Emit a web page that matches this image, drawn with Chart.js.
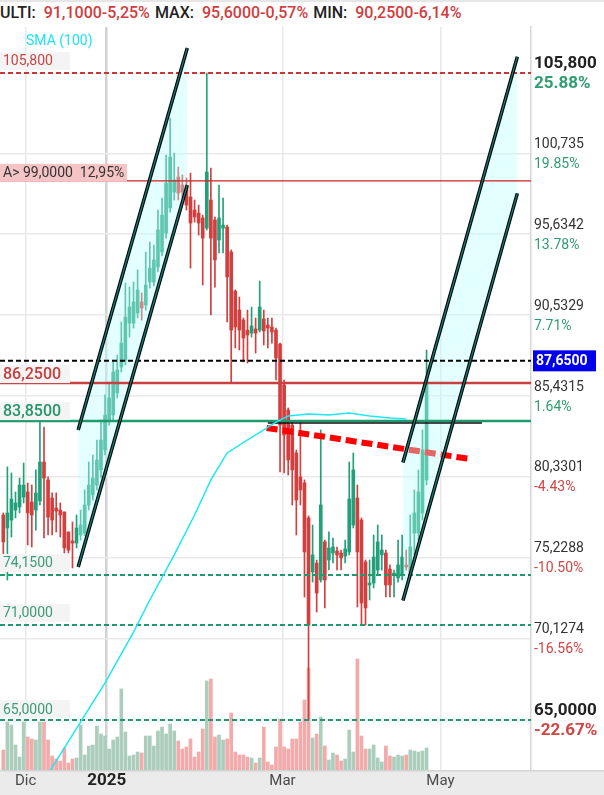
<!DOCTYPE html>
<html lang="it">
<head>
  <meta charset="UTF-8">
  <title>Grafico giornaliero</title>
  <script src="https://cdn.jsdelivr.net/npm/chart.js"></script>
  <style>
    body {
      margin: 0;
      background: #fff;
      font-family: Roboto, Arial, sans-serif;
    }
    #wrap {
      position: relative;
      width: 604px;
      height: 795px;
      overflow: hidden;
    }
    canvas {
      position: absolute;
      left: 0;
      top: 0;
    }
    #head {
      position: absolute;
      left: 0;
      top: 0;
      width: 604px;
      height: 24px;
      border-top: 2px solid #e6e6e6;
      background: #fff;
      font-size: 16px;
      font-weight: 500;
      line-height: 22px;
      white-space: nowrap;
    }
    .k { color: #222; margin-right: 8px; }
    .v { color: #d23c3c; margin-right: 5px; }
  </style>
</head>
<body>
  <div id="wrap">
    <canvas id="chart" width="604" height="795"></canvas>
    <div id="head"></div>
  </div>

  <script>
    // header quote
    const headKeys = ['ULTI:', 'MAX:', 'MIN:'];
    const headVals = ['91,1000-5,25%', '95,6000-0,57%', '90,2500-6,14%'];

    // daily candles (index 0 = first session shown)
    const opens = [
      77.93, 77.11, 77.61, 78.24, 78.43, 79.06, 79.38, 78.75, 78.24, 78.81,
      81.27, 80.14, 79.00, 78.37, 78.24, 78.12, 76.86, 76.29, 76.16, 76.67,
      76.79, 78.56, 79.19, 79.82, 80.77, 82.03, 83.92, 84.23, 85.62, 87.26,
      87.70, 90.03, 90.03, 90.67, 91.36, 91.17, 92.62, 92.62, 93.57, 94.51,
      95.71, 97.29, 98.29, 99.24, 98.74, 98.61, 97.98, 97.16, 96.97, 96.66,
      96.02, 97.79, 96.53, 95.27, 96.02, 96.09, 94.51, 92.05, 90.85, 90.22,
      89.59, 89.40, 89.66, 89.59, 90.29, 89.91, 89.78, 89.59, 88.71, 86.13,
      84.55, 83.60, 81.84, 80.33, 79.95, 77.74, 74.34, 74.90, 73.83, 76.23,
      75.09, 75.53, 75.66, 75.53, 75.34, 75.60, 77.30, 79.00, 77.61, 74.97,
      73.52, 73.64, 74.46, 75.41, 75.53, 74.52, 74.15, 73.96, 74.15, 74.78,
      74.27, 76.79, 76.79, 78.06, 80.14
    ];
    const highs = [
      78.06, 80.96, 80.58, 79.38, 80.26, 81.21, 79.95, 79.82, 80.77, 83.85,
      83.48, 80.33, 79.32, 79.32, 78.69, 78.12, 76.86, 77.49, 77.93, 78.24,
      79.51, 81.27, 81.71, 82.66, 83.92, 85.50, 86.31, 87.70, 88.02, 90.10,
      92.56, 92.30, 92.62, 93.38, 91.93, 94.51, 95.14, 94.95, 97.16, 97.92,
      100.63, 102.96, 100.75, 99.87, 99.37, 99.18, 99.49, 97.79, 97.47, 96.84,
      105.80, 99.81, 96.72, 98.74, 97.92, 96.21, 94.64, 92.12, 91.67, 90.35,
      90.85, 91.04, 90.35, 92.68, 90.85, 90.35, 90.35, 89.72, 88.77, 86.44,
      84.68, 83.79, 82.03, 83.73, 80.14, 77.87, 77.30, 75.09, 83.29, 76.35,
      76.86, 76.48, 75.91, 75.72, 76.35, 81.27, 81.84, 79.82, 77.74, 75.09,
      75.09, 76.67, 77.30, 76.67, 75.72, 74.78, 74.46, 76.35, 76.67, 75.72,
      77.93, 79.51, 80.77, 83.29, 88.33
    ];
    const lows = [
      75.41, 73.83, 76.54, 77.74, 78.06, 78.69, 76.04, 75.91, 76.98, 78.56,
      76.48, 76.67, 76.67, 76.86, 76.54, 75.53, 75.53, 74.59, 75.85, 76.35,
      76.61, 78.24, 78.87, 79.51, 80.26, 81.71, 83.60, 83.92, 85.31, 86.95,
      87.39, 89.15, 89.72, 90.35, 90.22, 90.85, 92.24, 92.37, 93.25, 94.26,
      95.39, 97.03, 97.79, 97.79, 97.92, 97.16, 93.50, 96.40, 95.58, 92.43,
      95.90, 90.54, 92.30, 94.45, 94.45, 90.10, 86.25, 88.46, 88.33, 87.58,
      87.51, 89.15, 88.14, 89.47, 88.65, 88.46, 88.77, 86.44, 80.64, 80.58,
      80.45, 78.56, 76.67, 78.56, 72.76, 65.00, 73.70, 71.81, 73.70, 72.07,
      74.46, 74.90, 74.46, 74.46, 74.90, 75.41, 77.11, 72.13, 70.99, 70.99,
      72.57, 73.33, 74.15, 74.46, 72.76, 72.76, 72.76, 73.70, 73.83, 74.46,
      73.96, 75.41, 76.35, 77.61, 79.82
    ];
    const closes = [
      76.23, 78.06, 78.94, 78.69, 79.82, 79.82, 78.06, 77.93, 79.32, 81.27,
      80.26, 77.80, 77.61, 78.18, 77.93, 75.85, 75.72, 76.16, 77.11, 77.30,
      78.56, 79.82, 80.26, 81.40, 82.66, 84.23, 85.31, 86.95, 87.07, 88.77,
      90.41, 91.04, 91.36, 92.12, 90.98, 92.43, 93.50, 94.01, 95.90, 96.84,
      98.86, 100.50, 99.05, 98.23, 98.29, 97.47, 96.34, 96.72, 96.34, 95.39,
      99.56, 95.39, 94.01, 96.66, 96.21, 92.94, 89.59, 89.78, 89.59, 89.09,
      89.28, 89.85, 89.40, 91.04, 89.53, 89.72, 89.47, 87.83, 83.60, 82.97,
      81.40, 80.77, 78.87, 79.51, 75.60, 70.99, 75.41, 73.01, 78.56, 73.83,
      75.85, 75.91, 75.41, 75.22, 75.79, 78.94, 80.77, 75.60, 72.38, 72.07,
      73.64, 75.28, 76.23, 75.72, 73.52, 73.52, 74.27, 74.78, 75.28, 74.65,
      75.91, 78.06, 79.38, 82.03, 86.44
    ];
    const volumes = [
      20, 48, 45, 25, 13, 48, 33, 31, 30, 48,
      48, 30, 14, 11, 9, 22, 7, 11, 12, 45,
      15, 24, 25, 44, 36, 34, 21, 30, 33, 81,
      38, 14, 15, 18, 17, 34, 34, 24, 39, 43,
      36, 46, 39, 29, 21, 23, 31, 13, 18, 41,
      89, 91, 33, 35, 30, 31, 57, 18, 15, 15,
      13, 12, 7, 12, 43, 8, 5, 23, 51, 23,
      21, 31, 31, 48, 70, 102, 32, 36, 53, 24,
      10, 17, 15, 9, 11, 40, 18, 111, 34, 21,
      21, 25, 12, 8, 24, 14, 13, 15, 14, 15,
      20, 19, 18, 19, 22
    ];

    // SMA(100), read at some sessions
    const smaIdx = [11, 19, 25, 32, 36, 42, 47, 51, 55, 60, 64, 67, 70, 75, 80, 85, 90, 95, 99];
    const smaVal = [61.6, 64.88, 67.34, 70.55, 72.57, 75.41, 77.93, 80.14, 81.84, 82.66,
                    83.29, 83.79, 84.17, 84.30, 84.24, 84.36, 84.17, 84.05, 83.98];

    // drawn objects (session index, price)
    const leftChanIdx = [18.4, 45.2];
    const leftChanTop = [83.29, 107.38];
    const leftChanBottom = [74.65, 98.74];
    const rightChanIdx = [98.2, 126.3];
    const rightChanTop = [81.24, 106.83];
    const rightChanBottom = [72.54, 98.21];
    const resistIdx = [64.7, 114.7];
    const resistVal = [83.42, 81.46];
    const flatIdx = [65, 117.6];
    const flatVal = [83.73, 83.73];

    // horizontal levels and their tags
    const levelPrices = [105.8, 99.0, 87.65, 86.25, 83.85, 74.15, 71.0, 65.0];
    const levelTags = ['105,800', 'A> 99,0000  12,95%', null, '86,2500', '83,8500', '74,1500', '71,0000', '65,0000'];
    const lastPrice = 87.65;
    const lastTag = '87,6500';

    // price axis
    const axisPrices = [105.8, 100.735, 95.6342, 90.5329, 85.4315, 80.3301, 75.2288, 70.1274, 65.0];
    const axisLabels = ['105,800', '100,735', '95,6342', '90,5329', '85,4315', '80,3301', '75,2288', '70,1274', '65,0000'];
    const axisPct = ['25.88%', '19.85%', '13.78%', '7.71%', '1.64%', '-4.43%', '-10.50%', '-16.56%', '-22.67%'];

    // time axis
    const monthTicks = [5.5, 25.4, 68.6, 107.4];
    const monthLabels = ['Dic', '2025', 'Mar', 'May'];

    const X_MIN = -0.81, X_MAX = 129.66;
    const Y_MIN = 61.85, Y_MAX = 108.70;

    const GREEN = '#23a07a';
    const RED = '#d23f3f';

    const levelStyles = [
      { line: '#c83737', width: 2, dash: [5, 3], text: '#cc4444', font: '14px Roboto', box: '#f4f4f4', boxW: 70, dy: -21 },
      { line: '#cc2020', width: 1.2, dash: [], text: '#333', font: '14px Roboto', box: '#f5c4c4', boxW: 127, dy: -17 },
      { line: '#000', width: 2, dash: [5, 3] },
      { line: '#c84040', width: 2.5, dash: [], text: '#c83c3c', font: '500 16px Roboto', box: '#f4f4f4', boxW: 70, dy: -18 },
      { line: '#1f9a6e', width: 2.5, dash: [], text: '#23956b', font: '500 16px Roboto', box: '#f4f4f4', boxW: 70, dy: -19 },
      { line: '#1f9a6e', width: 2, dash: [5, 3], text: '#3c9c78', font: '14px Roboto', box: '#f4f4f4', boxW: 70, dy: -21 },
      { line: '#1f9a6e', width: 2, dash: [5, 3], text: '#3c9c78', font: '14px Roboto', box: '#f4f4f4', boxW: 70, dy: -21 },
      { line: '#1f9a6e', width: 2, dash: [5, 3], text: '#3c9c78', font: '14px Roboto', box: '#f4f4f4', boxW: 70, dy: -20 }
    ];

    document.getElementById('head').innerHTML = headKeys
      .map((k, i) => `<span class="k">${k}</span><span class="v">${headVals[i]}</span>`)
      .join('');

    const up = closes.map((c, i) => c >= opens[i]);
    const pts = (xs, ys) => xs.map((x, i) => ({ x, y: ys[i] }));

    function lineSet(data, color, width, dash, order) {
      return {
        type: 'line', data, borderColor: color, borderWidth: width,
        borderDash: dash || [], pointRadius: 0, fill: false, order
      };
    }

    function channel(xs, top, bottom) {
      return [
        { type: 'line', data: pts(xs, top), borderWidth: 0, pointRadius: 0, fill: false, order: 16 },
        { type: 'line', data: pts(xs, bottom), borderWidth: 0, pointRadius: 0,
          fill: '-1', backgroundColor: 'rgba(185, 255, 255, 0.4)', order: 16 },
        lineSet(pts(xs, top), '#000', 3.5, null, 13),
        lineSet(pts(xs, top), '#137a7a', 1.3, null, 12),
        lineSet(pts(xs, bottom), '#000', 3.5, null, 13),
        lineSet(pts(xs, bottom), '#137a7a', 1.3, null, 12)
      ];
    }

    const datasets = [
      {
        type: 'bar', yAxisID: 'vol', order: 20, grouped: false, barThickness: 3,
        data: volumes.map((v, i) => ({ x: i, y: v })),
        backgroundColor: up.map(u => u ? '#abcdbc' : '#f2aaaa')
      },
      {
        type: 'bar', order: 19, grouped: false, barThickness: 1,
        data: highs.map((h, i) => ({ x: i, y: [lows[i], h] })),
        backgroundColor: up.map(u => u ? GREEN : RED)
      },
      {
        type: 'bar', order: 18, grouped: false, barThickness: 3, minBarLength: 1,
        data: opens.map((o, i) => ({ x: i, y: [o, closes[i]] })),
        backgroundColor: up.map(u => u ? GREEN : RED)
      },
      lineSet(pts(resistIdx, resistVal), '#ff0000', 6, [11, 5], 17),
      ...channel(leftChanIdx, leftChanTop, leftChanBottom),
      ...channel(rightChanIdx, rightChanTop, rightChanBottom),
      ...levelPrices.map((p, k) => lineSet(
        [{ x: X_MIN, y: p }, { x: X_MAX, y: p }],
        levelStyles[k].line, levelStyles[k].width, levelStyles[k].dash, 15)),
      lineSet(pts(flatIdx, flatVal), '#111', 1.5, null, 14),
      lineSet(pts(smaIdx, smaVal), '#1de8f4', 1.5, null, 11)
    ];

    // background band, labels, tags
    const overlay = {
      id: 'overlay',
      beforeDraw(chart) {
        const { ctx, chartArea } = chart;
        ctx.save();
        ctx.fillStyle = '#ebebeb';
        ctx.fillRect(0, chartArea.bottom, chart.width, chart.height - chartArea.bottom);
        ctx.fillStyle = '#d4d4d4';
        ctx.fillRect(0, chartArea.bottom, chart.width, 1.5);
        ctx.restore();
      },
      afterDraw(chart) {
        const { ctx, scales: { x, y } } = chart;
        ctx.save();
        ctx.textBaseline = 'middle';

        ctx.textAlign = 'center';
        monthTicks.forEach((v, k) => {
          ctx.font = k === 1 ? 'bold 17px Roboto' : '15px Roboto';
          ctx.fillStyle = k === 1 ? '#222' : '#4a4a4a';
          ctx.fillText(monthLabels[k], x.getPixelForValue(v), 781);
        });

        ctx.textAlign = 'left';
        levelPrices.forEach((p, k) => {
          if (!levelTags[k]) return;
          const s = levelStyles[k];
          const py = y.getPixelForValue(p);
          ctx.fillStyle = s.box;
          ctx.fillRect(0, py + s.dy, s.boxW, 18);
          ctx.font = s.font;
          ctx.fillStyle = s.text;
          ctx.fillText(levelTags[k], 3, py + s.dy + 10);
        });

        ctx.font = '14px Roboto';
        ctx.fillStyle = '#1de4f4';
        ctx.fillText('SMA (100)', 26, 41);

        axisPrices.forEach((p, k) => {
          const py = y.getPixelForValue(p);
          const strong = k === 0 || k === axisPrices.length - 1;
          ctx.font = strong ? 'bold 17px Roboto' : '14px Roboto';
          ctx.fillStyle = strong ? '#222' : '#333';
          ctx.fillText(axisLabels[k], 534, py - 9);
          ctx.fillStyle = axisPct[k].startsWith('-') ? '#d14545' : '#2f9d70';
          ctx.fillText(axisPct[k], 534, py + 11);
        });

        const ly = y.getPixelForValue(lastPrice);
        ctx.fillStyle = '#0000ee';
        ctx.fillRect(533, ly - 10.5, 63, 21);
        ctx.font = 'bold 14px Roboto';
        ctx.fillStyle = '#fff';
        ctx.fillText(lastTag, 536, ly + 0.5);
        ctx.restore();
      }
    };

    new Chart(document.getElementById('chart'), {
      type: 'bar',
      data: { datasets },
      options: {
        responsive: false,
        animation: false,
        devicePixelRatio: 1,
        layout: { padding: { top: 27, left: 0, right: 0, bottom: 0 } },
        plugins: { legend: { display: false }, tooltip: { enabled: false } },
        elements: { point: { radius: 0 }, line: { tension: 0 } },
        scales: {
          x: {
            type: 'linear', min: X_MIN, max: X_MAX, offset: false,
            afterFit: s => { s.height = 25; },
            afterBuildTicks: s => { s.ticks = monthTicks.map(v => ({ value: v })); },
            ticks: { display: false },
            grid: {
              offset: false, drawTicks: false,
              color: c => c.index === 1 ? '#d2d2d2' : '#e8e8e8',
              lineWidth: c => c.index === 1 ? 2.5 : 1.5
            },
            border: { display: false }
          },
          y: {
            position: 'right', min: Y_MIN, max: Y_MAX,
            afterFit: s => { s.width = 73; },
            afterBuildTicks: s => { s.ticks = axisPrices.slice(1, -1).map(v => ({ value: v })); },
            ticks: { display: false },
            grid: { color: '#e9e9e9', lineWidth: 1.5, drawTicks: false },
            border: { color: '#d6d6d6', width: 1.5 }
          },
          vol: { display: false, min: 0, max: 743 }
        }
      },
      plugins: [overlay]
    });
  </script>
</body>
</html>
